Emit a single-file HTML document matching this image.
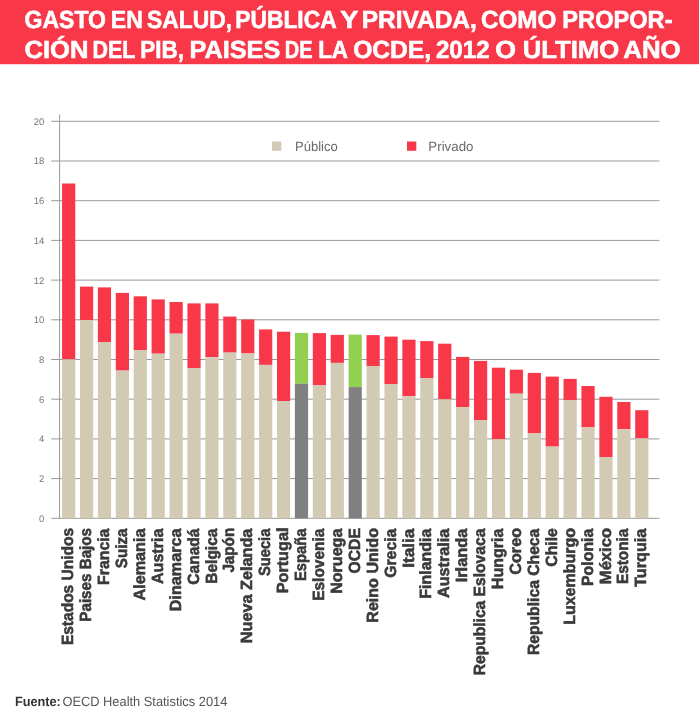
<!DOCTYPE html>
<html lang="es">
<head>
<meta charset="utf-8">
<title>Gasto en salud, pública y privada</title>
<style>
html,body{margin:0;padding:0;background:#fff;}
body{width:700px;height:717px;overflow:hidden;position:relative;font-family:"Liberation Sans",sans-serif;}
svg{display:block;position:absolute;left:0;top:0;text-rendering:geometricPrecision;}
.t{font-family:"Liberation Sans",sans-serif;font-weight:bold;font-size:24.8px;fill:#fff;stroke:#fff;stroke-width:0.6px;}
.ax{font-family:"Liberation Sans",sans-serif;font-size:9.5px;fill:#777;}
.lg{font-family:"Liberation Sans",sans-serif;font-size:13.4px;fill:#6a6a6a;}
.lb{font-family:"Liberation Sans",sans-serif;font-weight:bold;font-size:16.2px;fill:#3a3a3a;stroke:#3a3a3a;stroke-width:0.55px;}
.ft{font-family:"Liberation Sans",sans-serif;font-size:13.4px;fill:#555;}
.ftb{font-weight:bold;fill:#333;}
</style>
</head>
<body>
<svg width="700" height="717" viewBox="0 0 700 717">
<rect x="0" y="0" width="700" height="717" fill="#fff"/>
<rect x="0" y="0" width="699" height="64.2" fill="#f83749"/>
<g class="t">
<text transform="translate(24.58 28.40) scale(0.9285 1)">GASTO</text>
<text transform="translate(110.86 28.40) scale(0.9307 1)">EN</text>
<text transform="translate(147.04 28.40) scale(0.9209 1)">SALUD,</text>
<text transform="translate(235.27 28.40) scale(0.9196 1)">PÚBLICA</text>
<text transform="translate(340.28 28.40) scale(1.0889 1)">Y</text>
<text transform="translate(361.67 28.40) scale(0.9873 1)">PRIVADA,</text>
<text transform="translate(480.94 28.40) scale(0.9764 1)">COMO</text>
<text transform="translate(562.32 28.40) scale(0.9524 1)">PROPOR-</text>
<text transform="translate(24.50 57.60) scale(1.0320 1)">CIÓN</text>
<text transform="translate(92.56 57.60) scale(0.8651 1)">DEL</text>
<text transform="translate(140.30 57.60) scale(0.9045 1)">PIB,</text>
<text transform="translate(189.42 57.60) scale(1.0205 1)">PAISES</text>
<text transform="translate(284.75 57.60) scale(0.8063 1)">DE</text>
<text transform="translate(318.20 57.60) scale(0.9022 1)">LA</text>
<text transform="translate(353.13 57.60) scale(0.9934 1)">OCDE,</text>
<text transform="translate(435.95 57.60) scale(0.9725 1)">2012</text>
<text transform="translate(495.17 57.60) scale(1.0771 1)">O</text>
<text transform="translate(522.70 57.60) scale(1.0350 1)">ÚLTIMO</text>
<text transform="translate(623.30 57.60) scale(1.0420 1)">AÑO</text>
</g>
<g stroke="#999" stroke-width="1" fill="none">
<line x1="51.2" y1="518.30" x2="659.4" y2="518.30"/>
<line x1="51.2" y1="478.60" x2="659.4" y2="478.60"/>
<line x1="51.2" y1="438.90" x2="659.4" y2="438.90"/>
<line x1="51.2" y1="399.20" x2="659.4" y2="399.20"/>
<line x1="51.2" y1="359.50" x2="659.4" y2="359.50"/>
<line x1="51.2" y1="319.80" x2="659.4" y2="319.80"/>
<line x1="51.2" y1="280.10" x2="659.4" y2="280.10"/>
<line x1="51.2" y1="240.40" x2="659.4" y2="240.40"/>
<line x1="51.2" y1="200.70" x2="659.4" y2="200.70"/>
<line x1="51.2" y1="161.00" x2="659.4" y2="161.00"/>
<line x1="51.2" y1="121.30" x2="659.4" y2="121.30"/>
<line x1="59.6" y1="114.4" x2="59.6" y2="518.80"/>
</g>
<g class="ax" text-anchor="end">
<text x="44.4" y="521.70">0</text>
<text x="44.4" y="482.00">2</text>
<text x="44.4" y="442.30">4</text>
<text x="44.4" y="402.60">6</text>
<text x="44.4" y="362.90">8</text>
<text x="44.4" y="323.20">10</text>
<text x="44.4" y="283.50">12</text>
<text x="44.4" y="243.80">14</text>
<text x="44.4" y="204.10">16</text>
<text x="44.4" y="164.40">18</text>
<text x="44.4" y="124.70">20</text>
</g>
<rect x="62.06" y="183.50" width="13.20" height="175.90" fill="#f83749"/>
<rect x="62.06" y="359.40" width="13.20" height="158.90" fill="#d2cab2"/>
<rect x="79.97" y="286.60" width="13.20" height="33.40" fill="#f83749"/>
<rect x="79.97" y="320.00" width="13.20" height="198.30" fill="#d2cab2"/>
<rect x="97.88" y="287.40" width="13.20" height="54.60" fill="#f83749"/>
<rect x="97.88" y="342.00" width="13.20" height="176.30" fill="#d2cab2"/>
<rect x="115.79" y="292.90" width="13.20" height="77.70" fill="#f83749"/>
<rect x="115.79" y="370.60" width="13.20" height="147.70" fill="#d2cab2"/>
<rect x="133.70" y="296.30" width="13.20" height="53.70" fill="#f83749"/>
<rect x="133.70" y="350.00" width="13.20" height="168.30" fill="#d2cab2"/>
<rect x="151.61" y="299.40" width="13.20" height="54.30" fill="#f83749"/>
<rect x="151.61" y="353.70" width="13.20" height="164.60" fill="#d2cab2"/>
<rect x="169.52" y="302.00" width="13.20" height="31.70" fill="#f83749"/>
<rect x="169.52" y="333.70" width="13.20" height="184.60" fill="#d2cab2"/>
<rect x="187.43" y="303.40" width="13.20" height="64.60" fill="#f83749"/>
<rect x="187.43" y="368.00" width="13.20" height="150.30" fill="#d2cab2"/>
<rect x="205.34" y="303.40" width="13.20" height="53.70" fill="#f83749"/>
<rect x="205.34" y="357.10" width="13.20" height="161.20" fill="#d2cab2"/>
<rect x="223.25" y="316.60" width="13.20" height="36.00" fill="#f83749"/>
<rect x="223.25" y="352.60" width="13.20" height="165.70" fill="#d2cab2"/>
<rect x="241.16" y="319.50" width="13.20" height="34.00" fill="#f83749"/>
<rect x="241.16" y="353.50" width="13.20" height="164.80" fill="#d2cab2"/>
<rect x="259.07" y="329.40" width="13.20" height="35.50" fill="#f83749"/>
<rect x="259.07" y="364.90" width="13.20" height="153.40" fill="#d2cab2"/>
<rect x="276.98" y="331.70" width="13.20" height="69.40" fill="#f83749"/>
<rect x="276.98" y="401.10" width="13.20" height="117.20" fill="#d2cab2"/>
<rect x="294.89" y="332.90" width="13.20" height="50.80" fill="#92d050"/>
<rect x="294.89" y="383.70" width="13.20" height="134.60" fill="#808080"/>
<rect x="312.80" y="333.10" width="13.20" height="52.30" fill="#f83749"/>
<rect x="312.80" y="385.40" width="13.20" height="132.90" fill="#d2cab2"/>
<rect x="330.71" y="334.90" width="13.20" height="28.00" fill="#f83749"/>
<rect x="330.71" y="362.90" width="13.20" height="155.40" fill="#d2cab2"/>
<rect x="348.62" y="334.60" width="13.20" height="52.50" fill="#92d050"/>
<rect x="348.62" y="387.10" width="13.20" height="131.20" fill="#808080"/>
<rect x="366.53" y="335.10" width="13.20" height="30.90" fill="#f83749"/>
<rect x="366.53" y="366.00" width="13.20" height="152.30" fill="#d2cab2"/>
<rect x="384.44" y="336.60" width="13.20" height="47.40" fill="#f83749"/>
<rect x="384.44" y="384.00" width="13.20" height="134.30" fill="#d2cab2"/>
<rect x="402.35" y="339.70" width="13.20" height="56.60" fill="#f83749"/>
<rect x="402.35" y="396.30" width="13.20" height="122.00" fill="#d2cab2"/>
<rect x="420.26" y="341.10" width="13.20" height="36.90" fill="#f83749"/>
<rect x="420.26" y="378.00" width="13.20" height="140.30" fill="#d2cab2"/>
<rect x="438.17" y="343.70" width="13.20" height="55.70" fill="#f83749"/>
<rect x="438.17" y="399.40" width="13.20" height="118.90" fill="#d2cab2"/>
<rect x="456.08" y="356.90" width="13.20" height="50.20" fill="#f83749"/>
<rect x="456.08" y="407.10" width="13.20" height="111.20" fill="#d2cab2"/>
<rect x="473.99" y="360.90" width="13.20" height="59.10" fill="#f83749"/>
<rect x="473.99" y="420.00" width="13.20" height="98.30" fill="#d2cab2"/>
<rect x="491.90" y="367.70" width="13.20" height="71.70" fill="#f83749"/>
<rect x="491.90" y="439.40" width="13.20" height="78.90" fill="#d2cab2"/>
<rect x="509.81" y="369.70" width="13.20" height="24.00" fill="#f83749"/>
<rect x="509.81" y="393.70" width="13.20" height="124.60" fill="#d2cab2"/>
<rect x="527.72" y="372.90" width="13.20" height="60.50" fill="#f83749"/>
<rect x="527.72" y="433.40" width="13.20" height="84.90" fill="#d2cab2"/>
<rect x="545.63" y="376.60" width="13.20" height="70.00" fill="#f83749"/>
<rect x="545.63" y="446.60" width="13.20" height="71.70" fill="#d2cab2"/>
<rect x="563.54" y="378.90" width="13.20" height="21.10" fill="#f83749"/>
<rect x="563.54" y="400.00" width="13.20" height="118.30" fill="#d2cab2"/>
<rect x="581.45" y="386.00" width="13.20" height="41.40" fill="#f83749"/>
<rect x="581.45" y="427.40" width="13.20" height="90.90" fill="#d2cab2"/>
<rect x="599.36" y="396.80" width="13.20" height="60.20" fill="#f83749"/>
<rect x="599.36" y="457.00" width="13.20" height="61.30" fill="#d2cab2"/>
<rect x="617.27" y="402.00" width="13.20" height="27.20" fill="#f83749"/>
<rect x="617.27" y="429.20" width="13.20" height="89.10" fill="#d2cab2"/>
<rect x="635.18" y="410.20" width="13.20" height="28.20" fill="#f83749"/>
<rect x="635.18" y="438.40" width="13.20" height="79.90" fill="#d2cab2"/>
<g class="lb">
<text transform="translate(73.26 645.09) rotate(-90) scale(0.9578 1)">Estados Unidos</text>
<text transform="translate(91.17 621.68) rotate(-90) scale(0.9385 1)">Paises Bajos</text>
<text transform="translate(109.08 584.91) rotate(-90) scale(0.9777 1)">Francia</text>
<text transform="translate(126.99 568.16) rotate(-90) scale(0.9357 1)">Suiza</text>
<text transform="translate(144.90 600.48) rotate(-90) scale(0.9982 1)">Alemania</text>
<text transform="translate(162.81 584.08) rotate(-90) scale(0.9944 1)">Austria</text>
<text transform="translate(180.72 611.13) rotate(-90) scale(0.9965 1)">Dinamarca</text>
<text transform="translate(198.63 584.71) rotate(-90) scale(0.9593 1)">Canadá</text>
<text transform="translate(216.54 583.69) rotate(-90) scale(0.9565 1)">Belgica</text>
<text transform="translate(234.45 572.62) rotate(-90) scale(0.9409 1)">Japón</text>
<text transform="translate(252.36 643.24) rotate(-90) scale(1.0028 1)">Nueva Zelanda</text>
<text transform="translate(270.27 576.06) rotate(-90) scale(0.9092 1)">Suecia</text>
<text transform="translate(288.18 593.34) rotate(-90) scale(1.0018 1)">Portugal</text>
<text transform="translate(306.09 581.05) rotate(-90) scale(0.9107 1)">España</text>
<text transform="translate(324.00 600.79) rotate(-90) scale(0.9548 1)">Eslovenia</text>
<text transform="translate(341.91 593.83) rotate(-90) scale(0.9931 1)">Noruega</text>
<text transform="translate(359.82 573.62) rotate(-90) scale(0.9734 1)">OCDE</text>
<text transform="translate(377.73 622.73) rotate(-90) scale(0.9936 1)">Reino Unido</text>
<text transform="translate(395.64 577.82) rotate(-90) scale(0.9764 1)">Grecia</text>
<text transform="translate(413.55 567.70) rotate(-90) scale(1.0595 1)">Italia</text>
<text transform="translate(431.46 598.72) rotate(-90) scale(0.9865 1)">Finlandia</text>
<text transform="translate(449.37 598.08) rotate(-90) scale(1.0025 1)">Australia</text>
<text transform="translate(467.28 582.35) rotate(-90) scale(1.0123 1)">Irlanda</text>
<text transform="translate(485.19 675.30) rotate(-90) scale(0.9642 1)">Republica Eslovaca</text>
<text transform="translate(503.10 589.13) rotate(-90) scale(0.9894 1)">Hungria</text>
<text transform="translate(521.01 574.73) rotate(-90) scale(0.9996 1)">Coreo</text>
<text transform="translate(538.92 655.11) rotate(-90) scale(0.9693 1)">Republica Checa</text>
<text transform="translate(556.83 566.72) rotate(-90) scale(0.9755 1)">Chile</text>
<text transform="translate(574.74 624.82) rotate(-90) scale(0.9875 1)">Luxemburgo</text>
<text transform="translate(592.65 586.12) rotate(-90) scale(0.9836 1)">Polonia</text>
<text transform="translate(610.56 584.16) rotate(-90) scale(1.0238 1)">México</text>
<text transform="translate(628.47 584.09) rotate(-90) scale(0.9488 1)">Estonia</text>
<text transform="translate(646.38 586.93) rotate(-90) scale(1.0026 1)">Turquia</text>
</g>
<rect x="272" y="141.5" width="9.3" height="9.3" fill="#d2cab2"/>
<text class="lg" transform="translate(294.98 150.6) scale(0.9750 1)">Público</text>
<rect x="407" y="141.5" width="9.3" height="9.3" fill="#f83749"/>
<text class="lg" transform="translate(428.36 150.6) scale(0.9921 1)">Privado</text>
<text class="ft ftb" transform="translate(14.90 705.6) scale(0.9497 1)">Fuente:</text>
<text class="ft" transform="translate(62.40 705.6) scale(0.9592 1)">OECD Health Statistics 2014</text>
</svg>
</body>
</html>
